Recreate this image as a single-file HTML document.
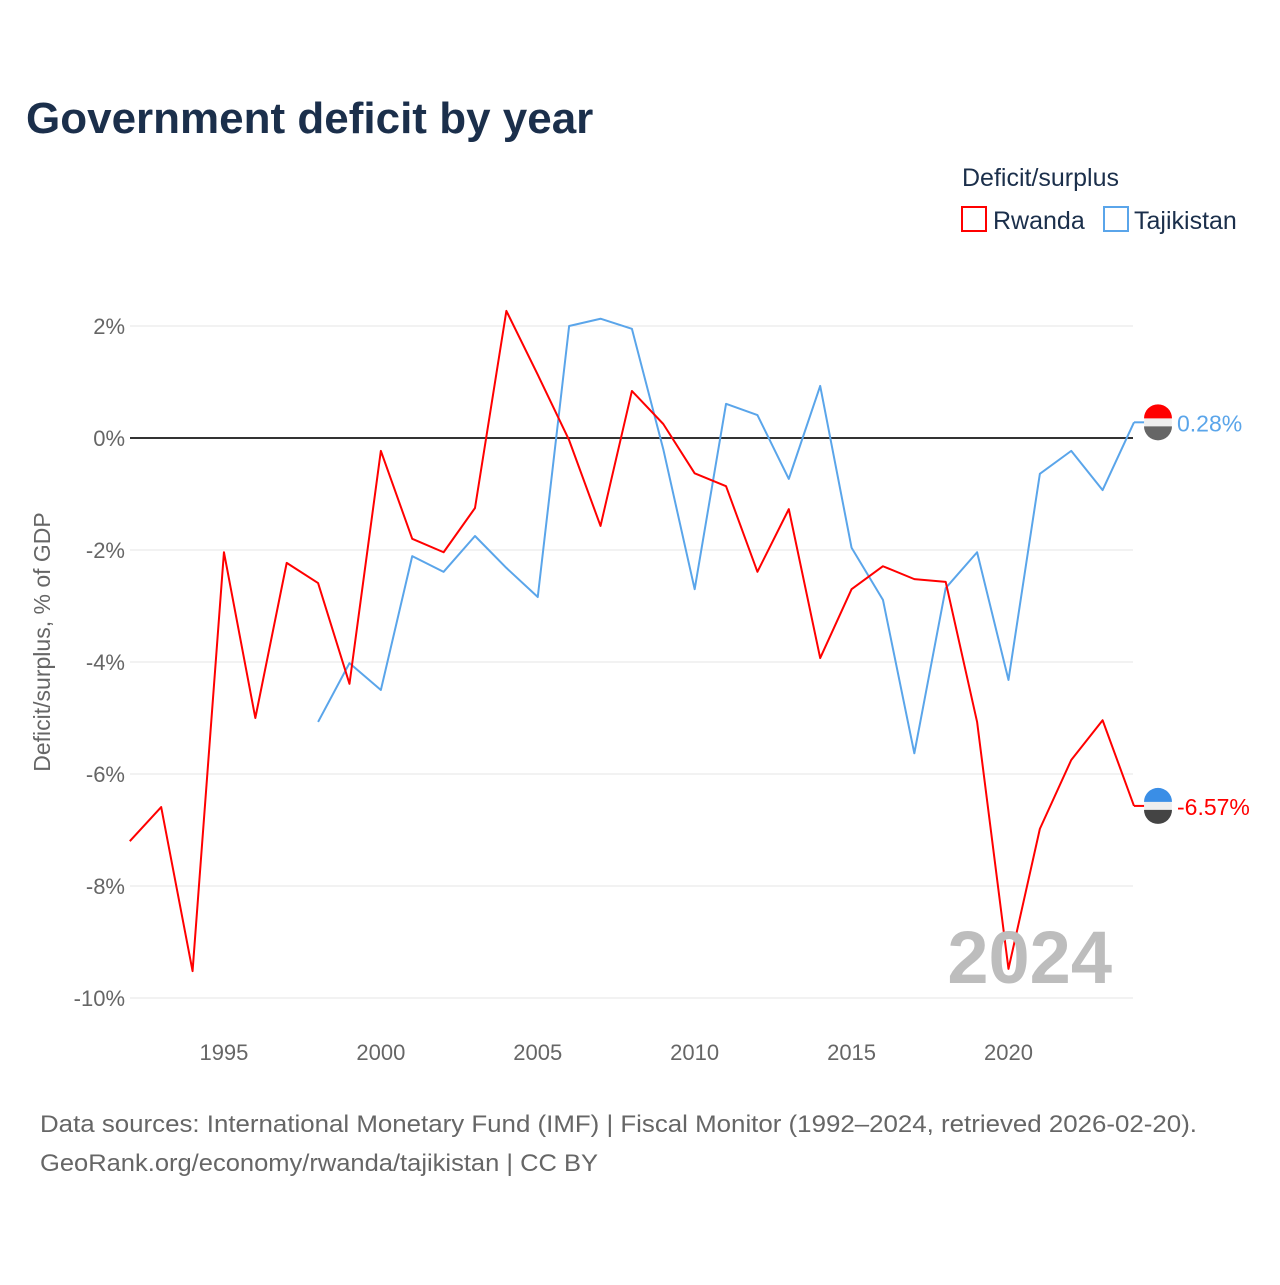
<!DOCTYPE html>
<html><head><meta charset="utf-8"><style>
body{margin:0;background:#fff;font-family:"Liberation Sans",sans-serif}
</style></head><body>
<svg id="chart" width="1280" height="1280" xmlns="http://www.w3.org/2000/svg" font-family="Liberation Sans, sans-serif">
<rect width="1280" height="1280" fill="#fff"/>
<text x="26" y="133" font-size="44" font-weight="bold" fill="#1b2f4b">Government deficit by year</text>
<text x="962" y="186" font-size="25" fill="#1b2f4b">Deficit/surplus</text>
<g><rect x="962" y="207" width="24" height="24" fill="none" stroke="#ff0000" stroke-width="2"/><text x="993" y="229" font-size="25" fill="#1b2f4b">Rwanda</text></g>
<g><rect x="1104" y="207" width="24" height="24" fill="none" stroke="#5aa5ea" stroke-width="2"/><text x="1134" y="229" font-size="25" fill="#1b2f4b">Tajikistan</text></g>
<text transform="translate(50,642) rotate(-90)" text-anchor="middle" font-size="23" fill="#666">Deficit/surplus, % of GDP</text>
<g id="grid"></g><g id="series"></g>
<text x="1112" y="983" text-anchor="end" font-size="74" font-weight="bold" fill="#bdbdbd">2024</text>
<text x="40" y="1132" font-size="24" fill="#666" textLength="1157" lengthAdjust="spacingAndGlyphs">Data sources: International Monetary Fund (IMF) | Fiscal Monitor (1992–2024, retrieved 2026-02-20).</text>
<text x="40" y="1171" font-size="24" fill="#666" textLength="558" lengthAdjust="spacingAndGlyphs">GeoRank.org/economy/rwanda/tajikistan | CC BY</text>
</svg>
<script>
const yTicks=[2,0,-2,-4,-6,-8,-10];
const xTicks=[1995,2000,2005,2010,2015,2020];
const rwYears=[1992,1993,1994,1995,1996,1997,1998,1999,2000,2001,2002,2003,2004,2005,2006,2007,2008,2009,2010,2011,2012,2013,2014,2015,2016,2017,2018,2019,2020,2021,2022,2023,2024];
const rwanda=[-7.2,-6.59,-9.52,-2.04,-5.0,-2.23,-2.59,-4.39,-0.23,-1.8,-2.04,-1.25,2.27,1.13,-0.04,-1.57,0.84,0.25,-0.63,-0.86,-2.39,-1.27,-3.93,-2.7,-2.29,-2.52,-2.57,-5.07,-9.48,-6.98,-5.75,-5.04,-6.57];
const tjYears=[1998,1999,2000,2001,2002,2003,2004,2005,2006,2007,2008,2009,2010,2011,2012,2013,2014,2015,2016,2017,2018,2019,2020,2021,2022,2023,2024];
const tajikistan=[-5.07,-4.02,-4.5,-2.11,-2.39,-1.75,-2.32,-2.84,2.0,2.13,1.95,-0.2,-2.7,0.61,0.41,-0.73,0.93,-1.96,-2.89,-5.63,-2.68,-2.04,-4.32,-0.64,-0.23,-0.93,0.28];
const NS="http://www.w3.org/2000/svg";
const x=v=>129.8+(v-1992)*(1004.2/32);
const y=v=>438-v*56;
function mk(t,a,p){const e=document.createElementNS(NS,t);for(const k in a)e.setAttribute(k,a[k]);p.appendChild(e);return e;}
const grid=document.getElementById('grid'),ser=document.getElementById('series');
yTicks.forEach(t=>{
 const l=mk('line',{x1:130,x2:1133,y1:y(t),y2:y(t),stroke:t===0?'#333':'#e6e6e6','stroke-width':t===0?2:1},grid);
 
 
 const tx=mk('text',{x:125,y:y(t)+8,'text-anchor':'end','font-size':22,fill:'#666'},grid);
 tx.textContent=t+'%';
 
 
});
xTicks.forEach(t=>{
 const tx=mk('text',{x:x(t),y:1060,'text-anchor':'middle','font-size':22,fill:'#666'},grid);
 tx.textContent=t;
 
 
});
function line(yrs,vals,col,name){
 const p=mk('polyline',{points:yrs.map((yr,i)=>x(yr)+','+y(vals[i])).join(' '),fill:'none',stroke:col,'stroke-width':2,'stroke-linejoin':'round'},ser);
 
 
}
line(tjYears,tajikistan,'#5aa5ea','tajikistan-line');
line(rwYears,rwanda,'#ff0000','rwanda-line');
function endLabel(v,col,name,top,bot){
 const cy=y(v);
 const seg=mk('line',{x1:1134,x2:1150,y1:cy,y2:cy,stroke:col,'stroke-width':2},ser);
 
 
 const g=mk('g',{},ser);
 
 
 mk('circle',{cx:1158,cy:cy,r:14,fill:'#eee'},g);
 mk('path',{d:`M1144,${cy-4} A14,14 0 0 1 1172,${cy-4} Z`,fill:top},g);
 mk('path',{d:`M1144,${cy+4} A14,14 0 0 0 1172,${cy+4} Z`,fill:bot},g);
 const t=mk('text',{x:1177,y:cy+9,'font-size':23,fill:col},ser);
 t.textContent=v.toFixed(2)+'%';
 
 
}
endLabel(tajikistan[tajikistan.length-1],'#5aa5ea','tajikistan','#f00','#666');
endLabel(rwanda[rwanda.length-1],'#ff0000','rwanda','#3a8ee6','#444');
</script>
</body></html>
